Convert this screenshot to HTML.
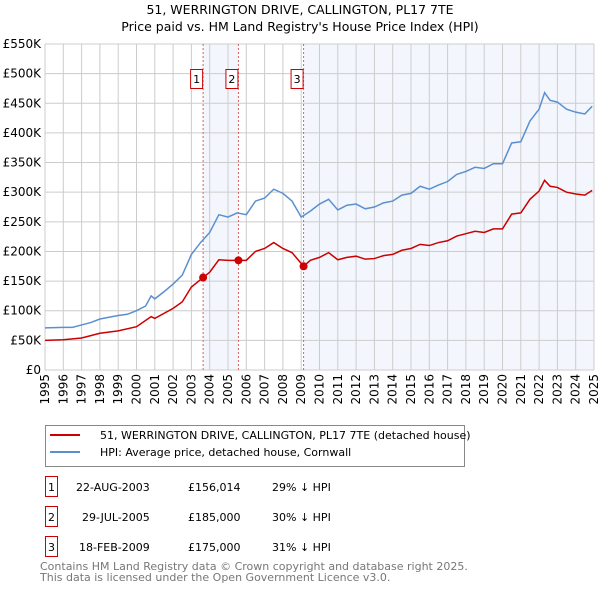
<!DOCTYPE html>
<html><head><meta charset="utf-8"><style>
body{margin:0;background:#fff;font-family:"Liberation Sans","DejaVu Sans",sans-serif;}
</style></head><body>
<svg width="600" height="590" xmlns="http://www.w3.org/2000/svg" style="font-family:'DejaVu Sans','Liberation Sans',sans-serif">
<text x="300" y="14" text-anchor="middle" font-size="12.5">51, WERRINGTON DRIVE, CALLINGTON, PL17 7TE</text>
<text x="300" y="31" text-anchor="middle" font-size="12.5">Price paid vs. HM Land Registry's House Price Index (HPI)</text>
<g id="plot"></g>
<g>
<rect x="45.5" y="425.5" width="419" height="41" fill="#fff" stroke="#888"/>
<line x1="50" y1="435" x2="80" y2="435" stroke="#cc0000" stroke-width="2"/>
<text x="100" y="439" font-size="11">51, WERRINGTON DRIVE, CALLINGTON, PL17 7TE (detached house)</text>
<line x1="50" y1="452" x2="80" y2="452" stroke="#5b8fd0" stroke-width="2"/>
<text x="100" y="456" font-size="11">HPI: Average price, detached house, Cornwall</text>
</g>
<g font-size="11">
<rect x="45.5" y="476.5" width="12" height="20" fill="#fff" stroke="#cc0000"/><text x="51.5" y="491" text-anchor="middle">1</text>
<text x="76" y="491">22-AUG-2003</text><text x="188" y="491">£156,014</text><text x="272" y="491">29% ↓ HPI</text>
<rect x="45.5" y="506.5" width="12" height="20" fill="#fff" stroke="#cc0000"/><text x="51.5" y="521" text-anchor="middle">2</text>
<text x="82" y="521">29-JUL-2005</text><text x="188" y="521">£185,000</text><text x="272" y="521">30% ↓ HPI</text>
<rect x="45.5" y="536.5" width="12" height="20" fill="#fff" stroke="#cc0000"/><text x="51.5" y="551" text-anchor="middle">3</text>
<text x="79" y="551">18-FEB-2009</text><text x="188" y="551">£175,000</text><text x="272" y="551">31% ↓ HPI</text>
</g>
<text x="40" y="570" font-size="11" fill="#777">Contains HM Land Registry data © Crown copyright and database right 2025.</text>
<text x="40" y="581" font-size="11" fill="#777">This data is licensed under the Open Government Licence v3.0.</text>
</svg>
<script>
const hpiYears=[1995,1996,1996.5,1997,1997.5,1998,1998.5,1999,1999.5,2000,2000.5,2000.8,2001,2001.5,2002,2002.5,2003,2003.5,2004,2004.5,2005,2005.5,2006,2006.5,2007,2007.5,2008,2008.5,2009,2009.5,2010,2010.5,2011,2011.5,2012,2012.5,2013,2013.5,2014,2014.5,2015,2015.5,2016,2016.5,2017,2017.5,2018,2018.5,2019,2019.5,2020,2020.5,2021,2021.5,2022,2022.3,2022.6,2023,2023.5,2024,2024.5,2024.9];
const hpiValues=[71,72,72,76,80,86,89,92,94,100,108,125,120,132,145,160,195,215,232,262,258,265,262,285,290,305,298,285,258,268,280,288,270,278,280,272,275,282,285,295,298,310,305,312,318,330,335,342,340,348,348,383,385,420,440,468,455,452,440,435,432,445];
const priceYears=[1995,1996,1997,1998,1999,2000,2000.8,2001,2002,2002.5,2003,2003.64,2004,2004.5,2005,2005.57,2006,2006.5,2007,2007.5,2008,2008.5,2009.13,2009.5,2010,2010.5,2011,2011.5,2012,2012.5,2013,2013.5,2014,2014.5,2015,2015.5,2016,2016.5,2017,2017.5,2018,2018.5,2019,2019.5,2020,2020.5,2021,2021.5,2022,2022.3,2022.6,2023,2023.5,2024,2024.5,2024.9];
const priceValues=[50,51,54,62,66,73,90,87,104,115,140,156,165,186,185,185,185,200,205,215,205,198,175,185,190,198,186,190,192,187,188,193,195,202,205,212,210,215,218,226,230,234,232,238,238,263,265,288,302,320,310,308,300,297,295,303];
const saleYears=[2003.64,2005.57,2009.13];
const saleValues=[156.014,185,175];
const saleLabels=["1","2","3"];
const yTicks=[0,50,100,150,200,250,300,350,400,450,500,550];
const xTicks=[1995,1996,1997,1998,1999,2000,2001,2002,2003,2004,2005,2006,2007,2008,2009,2010,2011,2012,2013,2014,2015,2016,2017,2018,2019,2020,2021,2022,2023,2024,2025];
const NS="http://www.w3.org/2000/svg";
const X=y=>45+(y-1995)*(549/30);
const Y=v=>370-v*(326/550);
const g=document.getElementById('plot');
function mk(t,a){const e=document.createElementNS(NS,t);for(const k in a)e.setAttribute(k,a[k]);g.appendChild(e);return e;}
// shading
let s=mk('rect',{x:X(saleYears[0]),y:44,width:X(saleYears[1])-X(saleYears[0]),height:326,fill:'#eef3fc',opacity:0.7});


s=mk('rect',{x:X(saleYears[2]),y:44,width:X(2025)-X(saleYears[2]),height:326,fill:'#eef3fc',opacity:0.7});


yTicks.forEach(v=>{
  const l=mk('line',{x1:45,x2:594,y1:Y(v),y2:Y(v),stroke:'#ccc'});
  
  
  const t=mk('text',{x:41,y:Y(v)+4,'text-anchor':'end','font-size':12});
  
  
  t.textContent=v===0?'£0':'£'+v+'K';
});
xTicks.forEach(yr=>{
  const l=mk('line',{x1:X(yr),x2:X(yr),y1:44,y2:370,stroke:'#ccc'});
  
  
  const t=mk('text',{x:0,y:0,'text-anchor':'end','font-size':12,transform:`translate(${X(yr)+4},374) rotate(-90)`});
  
  
  t.textContent=yr;
});
saleYears.forEach((yr,i)=>{
  const l=mk('line',{x1:X(yr),x2:X(yr),y1:44,y2:370,stroke:'#e06060','stroke-dasharray':'2,2'});
  
  
  const r=mk('rect',{x:X(yr)-12.5,y:69.5,width:12,height:19,fill:'#fff',stroke:'#cc0000'});
  
  
  const t=mk('text',{x:X(yr)-6.5,y:83,'text-anchor':'middle','font-size':11});
  
  
  t.textContent=saleLabels[i];
});
let p=mk('polyline',{points:hpiYears.map((y,i)=>X(y)+','+Y(hpiValues[i])).join(' '),fill:'none',stroke:'#5b8fd0','stroke-width':1.5});


p=mk('polyline',{points:priceYears.map((y,i)=>X(y)+','+Y(priceValues[i])).join(' '),fill:'none',stroke:'#cc0000','stroke-width':1.5});


saleYears.forEach((yr,i)=>{
  const c=mk('circle',{cx:X(yr),cy:Y(saleValues[i]),r:4,fill:'#cc0000'});
  
  
});
</script>
</body></html>
